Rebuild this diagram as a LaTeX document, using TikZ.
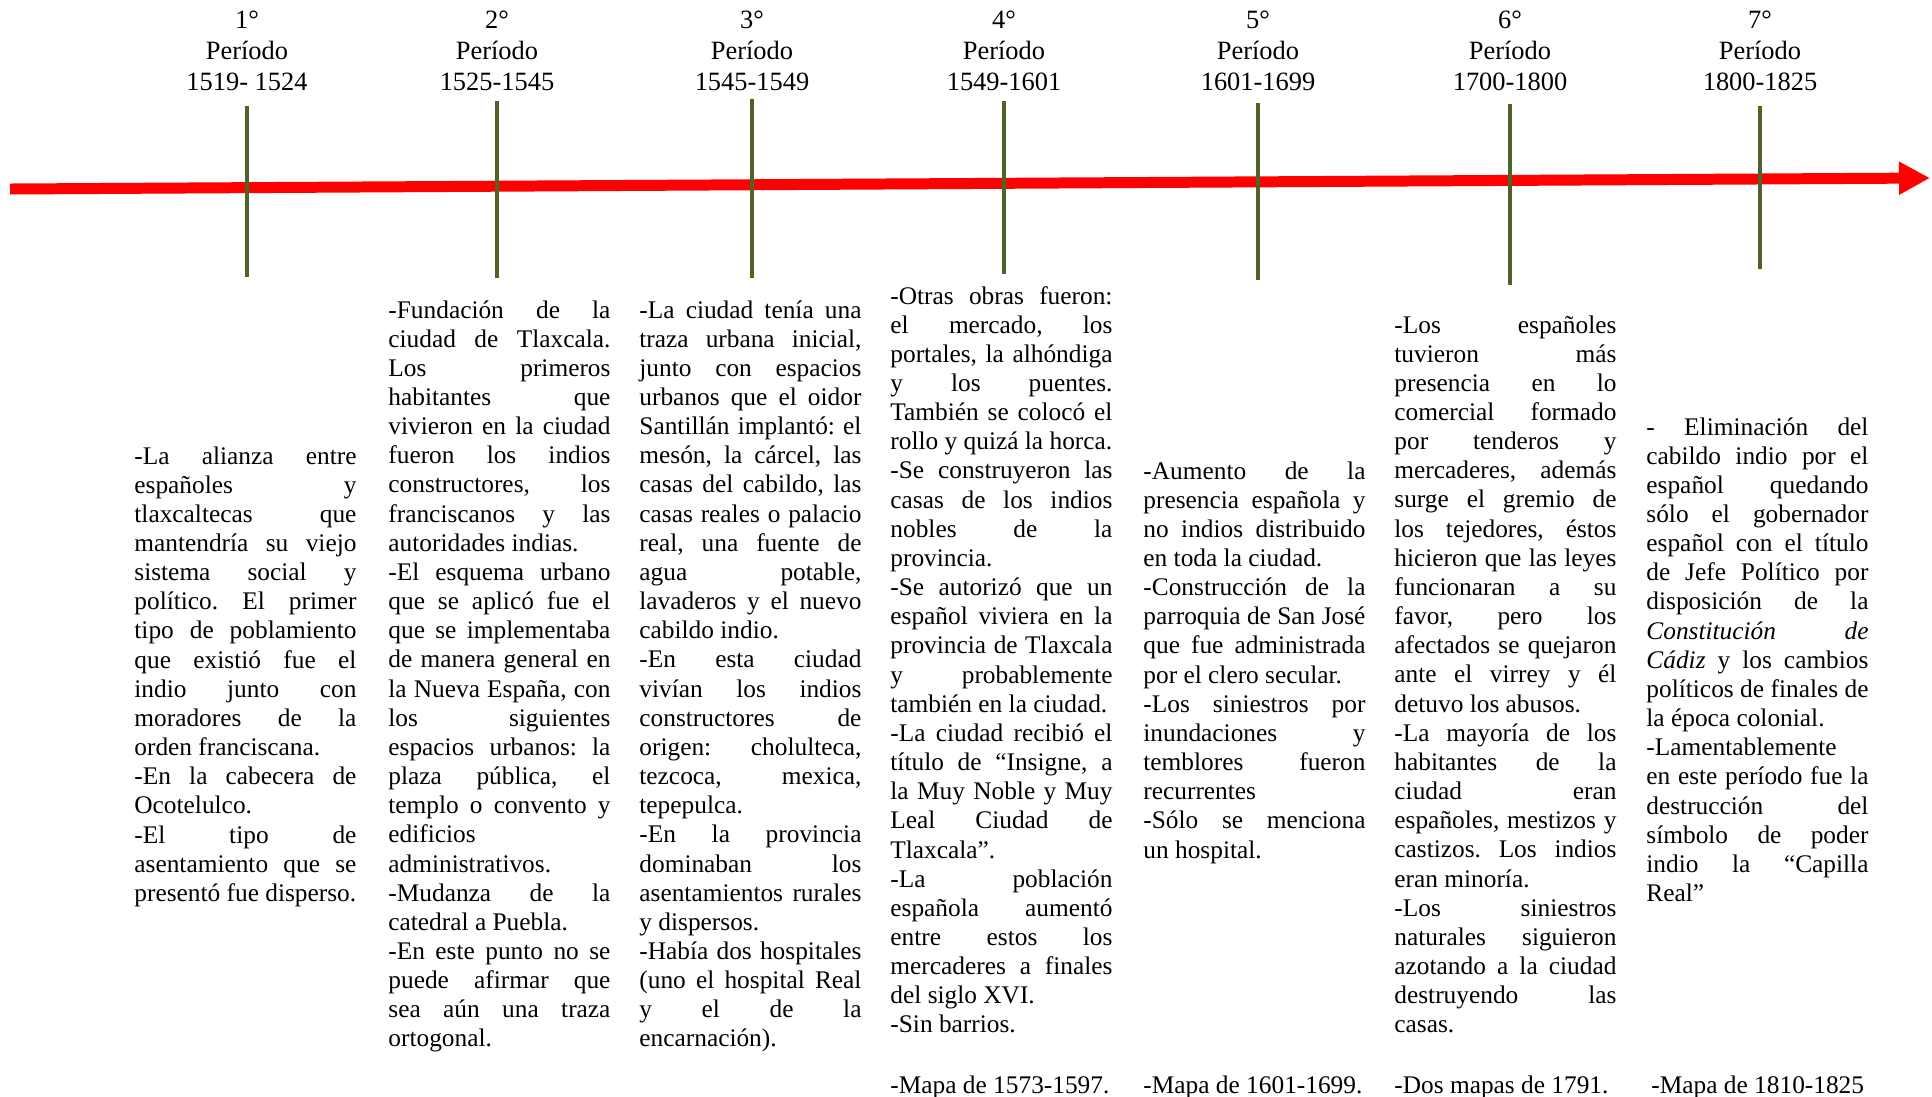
\documentclass[tikz,border=0pt]{standalone}
\usepackage{fontspec}
\setmainfont{Liberation Serif}
\usepackage{xcolor}
\usetikzlibrary{arrows.meta}
\definecolor{tickgreen}{RGB}{79,98,40}

\begin{document}
\begin{tikzpicture}[
    x=0.4733pt, y=-0.4733pt,
    period/.style={align=center, anchor=north, inner sep=0pt, font=\fontsize{12.5}{14.45}\selectfont},
    notes/.style={anchor=base west, inner sep=0pt, text width=105.1pt, align=justify, font=\fontsize{12}{13.8}\selectfont,
        execute at begin node={\frenchspacing\tolerance=10000\hyphenpenalty=10000\hbadness=10000}},
    mapa/.style={anchor=base west, inner sep=0pt, font=\fontsize{12}{13.8}\selectfont},
    tick/.style={draw=tickgreen, line width=1.45pt},
    timeline/.style={draw=red, line width=5.2pt, -{Triangle[length=14.7pt, width=14.7pt]}}
]
    \useasboundingbox (0,0) rectangle (1932,1096);
    % time axis
    \coordinate (start) at (10,189);
    \coordinate (end) at (1930,178);
    \draw[timeline] (start) -- (end);
    % period marks and headings
    \foreach \n/\x/\ya/\yb/\yrs in {1/247/106/277/1519- 1524, 2/497/101/278/1525-1545, 3/752/99/278/1545-1549,
        4/1004/101/274/1549-1601, 5/1258/103/280/1601-1699, 6/1510/104/285/1700-1800, 7/1760/106/269/1800-1825}{
        \draw[tick] (\x,\ya) -- (\x,\yb);
        \node[period] (p\n) at (\x,11) {{\n}°\\Período\\\yrs};
    }
    % notes under each period
    \node[notes] (n1) at (134,464) {-La alianza entre\linebreak
        españoles y\linebreak
        tlaxcaltecas que\linebreak
        mantendría su viejo\linebreak
        sistema social y\linebreak
        político. El primer\linebreak
        tipo de poblamiento\linebreak
        que existió fue el\linebreak
        indio junto con\linebreak
        moradores de la\linebreak
        orden franciscana.\par
        -En la cabecera de\linebreak
        Ocotelulco.\par
        -El tipo de\linebreak
        asentamiento que se\linebreak
        presentó fue disperso.};
    \node[notes] (n2) at (388,318) {-Fundación de la\linebreak
        ciudad de Tlaxcala.\linebreak
        Los primeros\linebreak
        habitantes que\linebreak
        vivieron en la ciudad\linebreak
        fueron los indios\linebreak
        constructores, los\linebreak
        franciscanos y las\linebreak
        autoridades indias.\par
        -El esquema urbano\linebreak
        que se aplicó fue el\linebreak
        que se implementaba\linebreak
        de manera general en\linebreak
        la Nueva España, con\linebreak
        los siguientes\linebreak
        espacios urbanos: la\linebreak
        plaza pública, el\linebreak
        templo o convento y\linebreak
        edificios\linebreak
        administrativos.\par
        -Mudanza de la\linebreak
        catedral a Puebla.\par
        -En este punto no se\linebreak
        puede afirmar que\linebreak
        sea aún una traza\linebreak
        ortogonal.};
    \node[notes] (n3) at (639,318) {-La ciudad tenía una\linebreak
        traza urbana inicial,\linebreak
        junto con espacios\linebreak
        urbanos que el oidor\linebreak
        Santillán implantó: el\linebreak
        mesón, la cárcel, las\linebreak
        casas del cabildo, las\linebreak
        casas reales o palacio\linebreak
        real, una fuente de\linebreak
        agua potable,\linebreak
        lavaderos y el nuevo\linebreak
        cabildo indio.\par
        -En esta ciudad\linebreak
        vivían los indios\linebreak
        constructores de\linebreak
        origen: cholulteca,\linebreak
        tezcoca, mexica,\linebreak
        tepepulca.\par
        -En la provincia\linebreak
        dominaban los\linebreak
        asentamientos rurales\linebreak
        y dispersos.\par
        -Había dos hospitales\linebreak
        (uno el hospital Real\linebreak
        y el de la\linebreak
        encarnación).};
    \node[notes] (n4) at (890,304) {-Otras obras fueron:\linebreak
        el mercado, los\linebreak
        portales, la alhóndiga\linebreak
        y los puentes.\linebreak
        También se colocó el\linebreak
        rollo y quizá la horca.\par
        -Se construyeron las\linebreak
        casas de los indios\linebreak
        nobles de la\linebreak
        provincia.\par
        -Se autorizó que un\linebreak
        español viviera en la\linebreak
        provincia de Tlaxcala\linebreak
        y probablemente\linebreak
        también en la ciudad.\par
        -La ciudad recibió el\linebreak
        título de “Insigne, a\linebreak
        la Muy Noble y Muy\linebreak
        Leal Ciudad de\linebreak
        Tlaxcala”.\par
        -La población\linebreak
        española aumentó\linebreak
        entre estos los\linebreak
        mercaderes a finales\linebreak
        del siglo XVI.\par
        -Sin barrios.};
    \node[notes] (n5) at (1143,479) {-Aumento de la\linebreak
        presencia española y\linebreak
        no indios distribuido\linebreak
        en toda la ciudad.\par
        -Construcción de la\linebreak
        parroquia de San José\linebreak
        que fue administrada\linebreak
        por el clero secular.\par
        -Los siniestros por\linebreak
        inundaciones y\linebreak
        temblores fueron\linebreak
        recurrentes\par
        -Sólo se menciona\linebreak
        un hospital.};
    \node[notes] (n6) at (1394,333) {-Los españoles\linebreak
        tuvieron más\linebreak
        presencia en lo\linebreak
        comercial formado\linebreak
        por tenderos y\linebreak
        mercaderes, además\linebreak
        surge el gremio de\linebreak
        los tejedores, éstos\linebreak
        hicieron que las leyes\linebreak
        funcionaran a su\linebreak
        favor, pero los\linebreak
        afectados se quejaron\linebreak
        ante el virrey y él\linebreak
        detuvo los abusos.\par
        -La mayoría de los\linebreak
        habitantes de la\linebreak
        ciudad eran\linebreak
        españoles, mestizos y\linebreak
        castizos. Los indios\linebreak
        eran minoría.\par
        -Los siniestros\linebreak
        naturales siguieron\linebreak
        azotando a la ciudad\linebreak
        destruyendo las\linebreak
        casas.};
    \node[notes] (n7) at (1646,435) {- Eliminación del\linebreak
        cabildo indio por el\linebreak
        español quedando\linebreak
        sólo el gobernador\linebreak
        español con el título\linebreak
        de Jefe Político por\linebreak
        disposición de la\linebreak
        \textit{Constitución de}\linebreak
        \textit{Cádiz} y los cambios\linebreak
        políticos de finales de\linebreak
        la época colonial.\par
        -Lamentablemente\linebreak
        en este período fue la\linebreak
        destrucción del\linebreak
        símbolo de poder\linebreak
        indio la “Capilla\linebreak
        Real”};
    % maps of each period
    \node[mapa] (m4) at (890,1093) {-Mapa de 1573-1597.};
    \node[mapa] (m5) at (1143,1093) {-Mapa de 1601-1699.};
    \node[mapa] (m6) at (1394,1093) {-Dos mapas de 1791.};
    \node[mapa] (m7) at (1651,1093) {-Mapa de 1810-1825};
\end{tikzpicture}
\end{document}
